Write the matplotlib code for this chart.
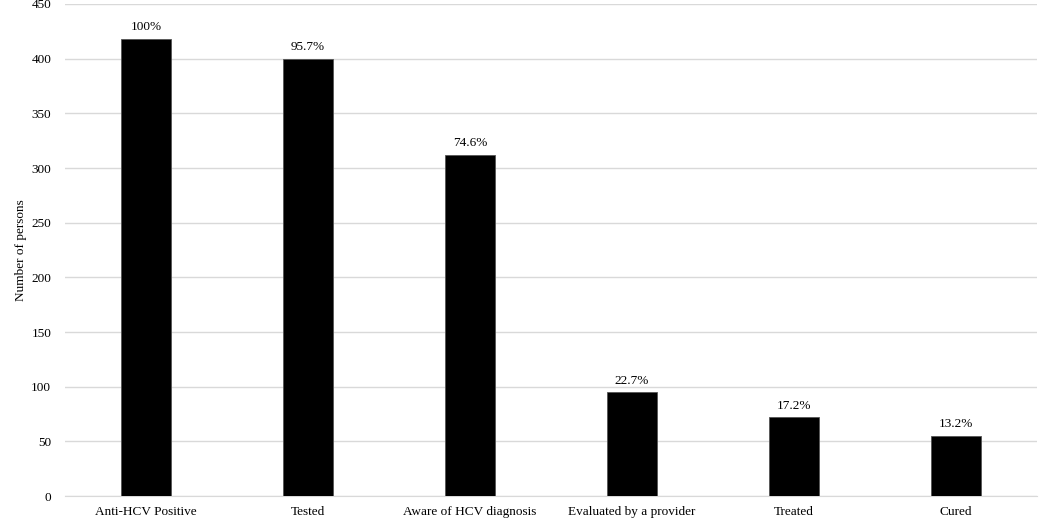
import matplotlib.pyplot as plt

# data
stages = ['Anti-HCV Positive', 'Tested', 'Aware of HCV diagnosis',
          'Evaluated by a provider', 'Treated', 'Cured']
persons = [418, 400, 312, 95, 72, 55]
pct_labels = ['100%', '95.7%', '74.6%', '22.7%', '17.2%', '13.2%']

plt.rcParams['font.family'] = ['Liberation Serif', 'DejaVu Serif']

fig = plt.figure(figsize=(10.5, 5.19), dpi=100)
ax = fig.add_axes([0.062, 0.0443, 0.9256, 0.948])

x = range(len(stages))
bars = ax.bar(x, persons, width=0.31, color='black', edgecolor='#555555', linewidth=0.6, zorder=3)
for b, lab in zip(bars, pct_labels):
    ax.annotate(lab, (b.get_x() + b.get_width() / 2, b.get_height()),
                xytext=(0, 4), textcoords='offset points',
                ha='center', va='bottom', fontsize=9.5)

ax.set_xlim(-0.5, len(stages) - 0.5)
ax.set_ylim(0, 450)
ax.set_yticks(range(0, 451, 50))
ax.set_xticks(list(x))
ax.set_xticklabels(stages, fontsize=9.5)
ax.tick_params(axis='y', labelsize=9.5, length=0, pad=10)
ax.tick_params(axis='x', length=0, pad=7)
ax.yaxis.grid(True, color='#d9d9d9', linewidth=1, zorder=0)
for s in ['top', 'right', 'left']:
    ax.spines[s].set_visible(False)
ax.spines['bottom'].set_color('#d9d9d9')
ax.set_ylabel('Number of persons', fontsize=9.5, labelpad=3)

fig.savefig('out.png', dpi=100)
